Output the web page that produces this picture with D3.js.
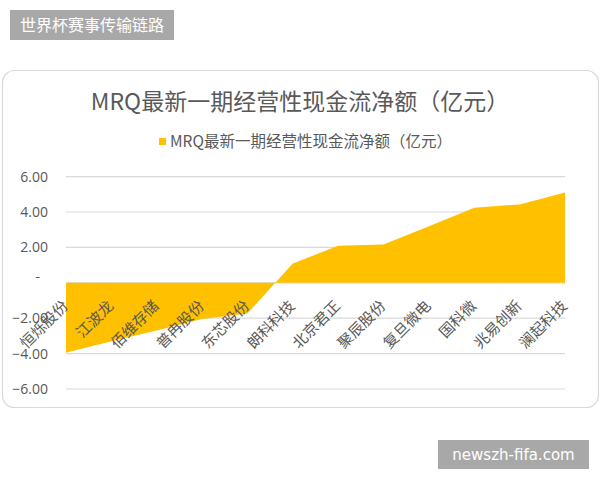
<!DOCTYPE html>
<meta charset="utf-8">
<style>
  body { margin: 0; background: #fff; }
  text { font-family: "Noto Sans CJK SC", "Noto Sans", sans-serif; }
</style>
<script src="https://d3js.org/d3.v7.min.js"></script>
<div id="chart"></div>
<script>
  // data
  var companies = ["恒烁股份", "江波龙", "佰维存储", "普冉股份", "东芯股份", "朗科科技",
                   "北京君正", "聚辰股份", "复旦微电", "国科微", "兆易创新", "澜起科技"];
  var cashFlow = [-3.95, -3.3, -2.7, -2.05, -1.73, 1.09, 2.09, 2.17, 3.2, 4.24, 4.43, 5.1];
  var yTicks = [-6, -4, -2, 0, 2, 4, 6];
  var title = "MRQ最新一期经营性现金流净额（亿元）";

  var width = 600, height = 480;
  var svg = d3.select("#chart").append("svg")
      .attr("width", width)
      .attr("height", height);

  // chart frame
  svg.append("rect")
    .attr("x", 2.5).attr("y", 70.5)
    .attr("width", 596).attr("height", 337)
    .attr("rx", 12).attr("ry", 12)
    .style("fill", "#fff")
    .style("stroke", "#d9d9d9")
    .style("stroke-width", 1.2);

  var x = d3.scalePoint().domain(companies).range([66, 565]);
  var y = d3.scaleLinear().domain([-6, 6]).range([389, 176.6]);

  // gridlines
  svg.append("g").selectAll("line")
    .data(yTicks)
    .enter().append("line")
      .attr("x1", 66).attr("x2", 565)
      .attr("y1", function(d) { return y(d); })
      .attr("y2", function(d) { return y(d); })
      .style("stroke", "#d9d9d9")
      .style("stroke-width", 1.2);

  // y axis labels (accounting style, zero shown as "-")
  var yAxis = d3.axisLeft(y)
      .tickValues(yTicks)
      .tickSize(0)
      .tickPadding(0)
      .tickFormat(function(d) { return d === 0 ? "" : d3.format(".2f")(d); });
  var gy = svg.append("g").attr("transform", "translate(48,0)").call(yAxis);
  gy.select(".domain").remove();
  gy.selectAll("text")
    .style("font-family", "'Open Sans', 'Noto Sans', sans-serif")
    .style("font-size", "14px")
    .style("fill", "#595959");
  svg.append("text")
    .attr("x", 40).attr("y", y(0) - 2)
    .attr("text-anchor", "end")
    .style("font-size", "14px")
    .style("fill", "#595959")
    .text("-");

  // area
  var area = d3.area()
      .x(function(d, i) { return x(companies[i]); })
      .y0(y(0))
      .y1(function(d) { return y(d); });
  svg.append("path")
    .datum(cashFlow)
    .attr("d", area)
    .style("fill", "#FFC000");

  // category labels, rotated
  svg.append("g").selectAll("text")
    .data(companies)
    .enter().append("text")
      .attr("transform", function(d) { return "translate(" + (x(d) + 3) + "," + 307 + ") rotate(-45)"; })
      .attr("text-anchor", "end")
      .style("font-size", "15px")
      .style("fill", "#595959")
      .text(function(d) { return d; });

  // title
  svg.append("text")
    .attr("x", 300).attr("y", 110)
    .attr("text-anchor", "middle")
    .style("font-size", "23px")
    .style("fill", "#595959")
    .text(title);

  // legend
  var legend = svg.append("g").attr("transform", "translate(159,138)");
  legend.append("rect").attr("width", 7).attr("height", 7).style("fill", "#FFC000");
  legend.append("text")
    .attr("x", 11).attr("y", 9)
    .style("font-size", "15.5px")
    .style("fill", "#595959")
    .text(title);

  // watermarks
  svg.append("rect").attr("x", 10).attr("y", 10).attr("width", 164).attr("height", 30).style("fill", "#a8a8a8");
  svg.append("text").attr("x", 92).attr("y", 31).attr("text-anchor", "middle")
    .style("font-size", "16px").style("fill", "#fff").text("世界杯赛事传输链路");
  svg.append("rect").attr("x", 438).attr("y", 440).attr("width", 151).attr("height", 29).style("fill", "#a8a8a8");
  svg.append("text").attr("x", 513.5).attr("y", 460).attr("text-anchor", "middle")
    .style("font-family", "'DejaVu Sans', sans-serif")
    .style("font-size", "15px").style("fill", "#fff").text("newszh-fifa.com");
</script>
